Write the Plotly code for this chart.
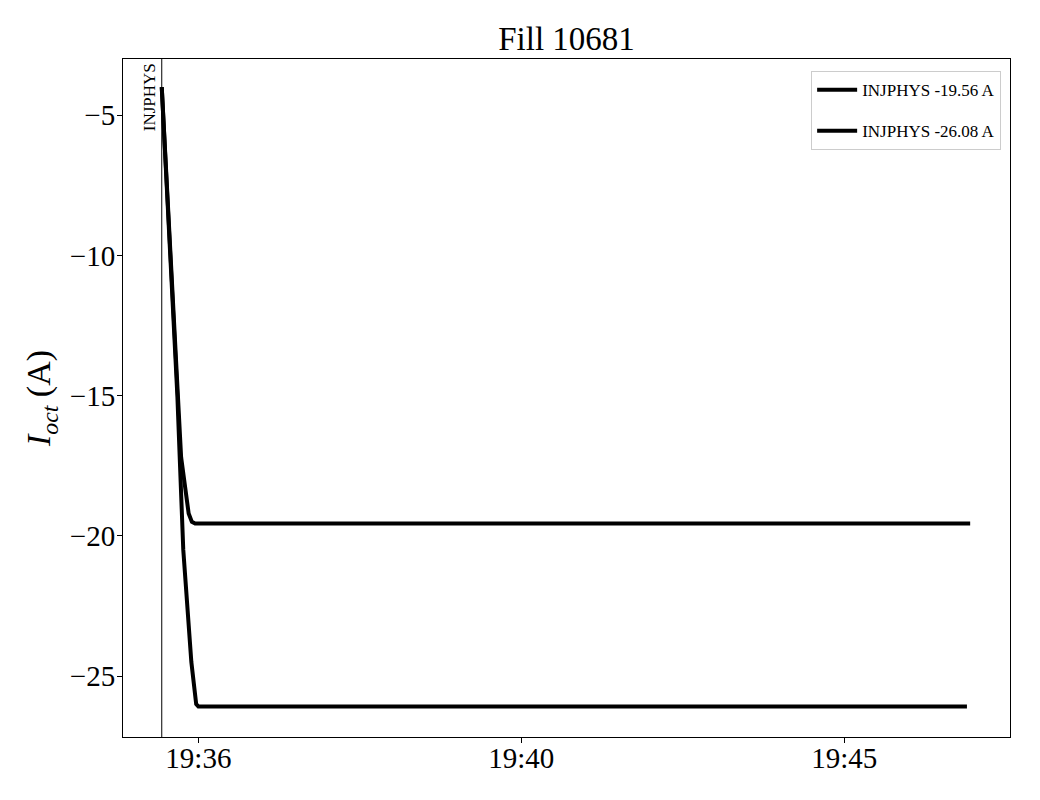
import plotly.graph_objects as go

DAY = "2024-01-01 "
# series 1 (settles at -19.56 A)
t_upper = ["19:34:26", "19:34:34", "19:34:44", "19:34:51", "19:34:54", "19:34:57", "19:46:57"]
i_upper = [-4.0, -10.0, -17.2, -19.2, -19.5, -19.56, -19.56]
# series 2 (settles at -26.08 A)
t_lower = ["19:34:26", "19:34:34", "19:34:40.5", "19:34:46", "19:34:51", "19:34:53.5", "19:34:58", "19:35:00", "19:46:54"]
i_lower = [-4.0, -10.0, -15.0, -20.5, -23.0, -24.5, -26.0, -26.08, -26.08]
names = ["INJPHYS -19.56 A", "INJPHYS -26.08 A"]

event_time = "19:34:26"
event_label = "INJPHYS"

tick_times = ["19:35:00", "19:40:00", "19:45:00"]
tick_labels = ["19:36", "19:40", "19:45"]

x_range = ["19:33:50", "19:47:34"]
y_range = [-27.17, -3.0]

FONT = "Liberation Serif"

fig = go.Figure()
for k, (t, v, n) in enumerate([(t_upper, i_upper, names[0]), (t_lower, i_lower, names[1])]):
    fig.add_trace(go.Scatter(x=[DAY + s for s in t], y=v, mode="lines", name=n,
                             legendgroup="g%d" % k,
                             line=dict(color="black", width=4)))

fig.add_shape(type="line", xref="x", yref="paper", x0=DAY + event_time, x1=DAY + event_time,
              y0=0, y1=1, line=dict(color="black", width=1))
fig.add_annotation(x=DAY + event_time, y=1, xref="x", yref="paper", text=event_label,
                   textangle=-90, showarrow=False, xanchor="right", yanchor="top",
                   xshift=-1, yshift=-2, font=dict(family=FONT, size=17, color="black"))

fig.update_layout(
    width=1040, height=800,
    paper_bgcolor="white", plot_bgcolor="white",
    margin=dict(l=115, r=38, t=51, b=71),
    font=dict(family=FONT, color="black"),
    title=dict(text="Fill 10681", x=0.5, xanchor="center", y=1, yanchor="bottom",
               xref="paper", yref="paper", pad=dict(b=9),
               font=dict(family=FONT, size=33, color="black")),
    showlegend=True,
    legend=dict(x=0.99, y=0.982, xanchor="right", yanchor="top",
                bordercolor="#cccccc", borderwidth=1, bgcolor="white",
                font=dict(family=FONT, size=17, color="black"),
                traceorder="grouped", tracegroupgap=16, itemwidth=40),
    xaxis=dict(type="date", range=[DAY + x_range[0], DAY + x_range[1]],
               tickvals=[DAY + s for s in tick_times], ticktext=tick_labels,
               showgrid=False, zeroline=False, showline=True, mirror=True,
               linecolor="black", linewidth=1, ticks="outside", ticklen=5,
               ticklabelstandoff=-10,
               tickcolor="black", tickfont=dict(family=FONT, size=29, color="black")),
    yaxis=dict(range=y_range, tickvals=[-25, -20, -15, -10, -5],
               ticktext=["\u221225", "\u221220", "\u221215", "\u221210", "\u22125"],
               showgrid=False, zeroline=False, showline=True, mirror=True,
               linecolor="black", linewidth=1, ticks="outside", ticklen=5,
               ticklabelstandoff=-4,
               tickcolor="black", tickfont=dict(family=FONT, size=29, color="black"),
               title=dict(text="<i>I<sub>oct</sub></i> (A)", standoff=8,
                          font=dict(family=FONT, size=34, color="black"))),
)

fig.write_html("out.html")
